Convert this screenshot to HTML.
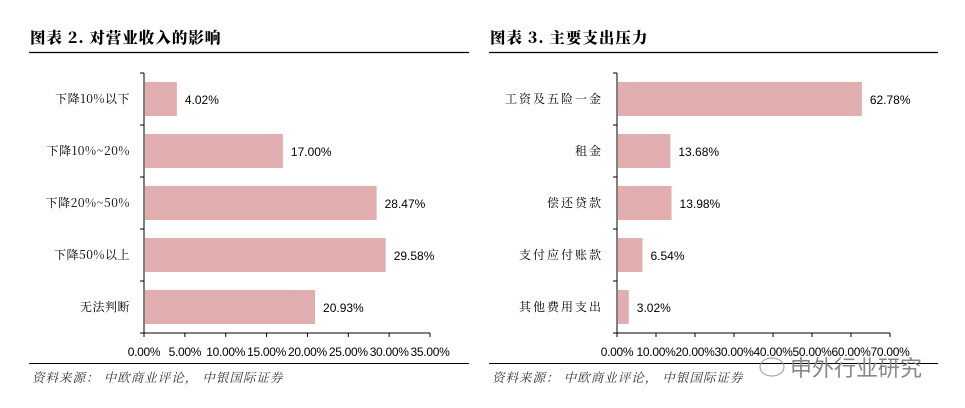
<!DOCTYPE html>
<html><head><meta charset="utf-8"><style>
body{margin:0;background:#fff;width:965px;height:408px;overflow:hidden}
svg{display:block}
text{font-family:"Liberation Sans","Noto Sans CJK SC",sans-serif}
.cn{font-family:"Noto Serif CJK SC","Noto Sans CJK SC",serif}
</style></head><body>
<svg id="s" width="965" height="408">
<g>
<text x="30" y="43" font-size="15.5" font-weight="900" letter-spacing="1" class="cn">图表 2. 对营业收入的影响</text>
<line x1="29" y1="52.5" x2="469" y2="52.5" stroke="#000" stroke-width="1.2"/>
<line x1="29" y1="363.5" x2="469" y2="363.5" stroke="#000" stroke-width="1"/>
<text x="32" y="382" font-size="12.5" font-style="italic" letter-spacing="1" fill="#333" class="cn">资料来源： 中欧商业评论， 中银国际证券</text>
</g>
<g>
<text x="490" y="43" font-size="15.5" font-weight="900" letter-spacing="1" class="cn">图表 3. 主要支出压力</text>
<line x1="489" y1="52.5" x2="938" y2="52.5" stroke="#000" stroke-width="1.2"/>
<line x1="489" y1="363.5" x2="938" y2="363.5" stroke="#000" stroke-width="1"/>
<text x="492" y="382" font-size="12.5" font-style="italic" letter-spacing="1" fill="#333" class="cn">资料来源： 中欧商业评论， 中银国际证券</text>
<text x="790" y="376" font-size="22" fill="#888">申外行业研究</text>
<ellipse cx="772" cy="367" rx="12" ry="9" fill="none" stroke="#999"/>
</g>
<g id="left"></g>
<g id="right"></g>
</svg>
<script>
const leftCats=["下降10%以下","下降10%~20%","下降20%~50%","下降50%以上","无法判断"];
const leftVals=[4.02,17.00,28.47,29.58,20.93];
const leftTicks=[0,5,10,15,20,25,30,35];
const rightCats=["工资及五险一金","租金","偿还贷款","支付应付账款","其他费用支出"];
const rightVals=[62.78,13.68,13.98,6.54,3.02];
const rightTicks=[0,10,20,30,40,50,60,70];
const NS="http://www.w3.org/2000/svg";
function mk(p,t,a){const e=document.createElementNS(NS,t);for(const k in a)e.setAttribute(k,a[k]);p.appendChild(e);return e;}
function chart(id,cats,vals,ticks,x0,x1,ls){
  const g=document.getElementById(id);
  const max=ticks[ticks.length-1];
  const x=v=>x0+(v/max)*(x1-x0);
  const top=73,bot=333,band=(bot-top)/cats.length;
  const ax=mk(g,'line',{x1:x0,y1:top,x2:x0,y2:bot,stroke:'#000'});
  
  
  const xa=mk(g,'line',{x1:x0,y1:bot,x2:x1,y2:bot,stroke:'#000'});
  
  
  for(let i=0;i<=cats.length;i++){mk(g,'line',{x1:x0-4,y1:top+i*band,x2:x0,y2:top+i*band,stroke:'#000'});}
  ticks.forEach(t=>{
    mk(g,'line',{x1:x(t),y1:bot,x2:x(t),y2:bot+4,stroke:'#000'});
    const tl=mk(g,'text',{x:x(t),y:356,'font-size':12,'text-anchor':'middle',fill:'#000','letter-spacing':-0.3});
    tl.textContent=t.toFixed(2)+'%';
    
    
  });
  cats.forEach((c,i)=>{
    const cy=top+band*i+band/2;
    const b=mk(g,'rect',{x:x0+1,y:cy-17,width:x(vals[i])-x0-1,height:34,fill:'#e0aeae'});
    
    
    const l=mk(g,'text',{x:x0-14,y:cy+4,'font-size':12,'text-anchor':'end',fill:'#000',class:'cn','letter-spacing':ls});
    l.textContent=c;
    
    
    const v=mk(g,'text',{x:x(vals[i])+8,y:cy+5,'font-size':12,fill:'#000'});
    v.textContent=vals[i].toFixed(2)+'%';
    
    
  });
}
chart('left',leftCats,leftVals,leftTicks,144,430,0.5);
chart('right',rightCats,rightVals,rightTicks,617,890,2);
</script>
</body></html>
